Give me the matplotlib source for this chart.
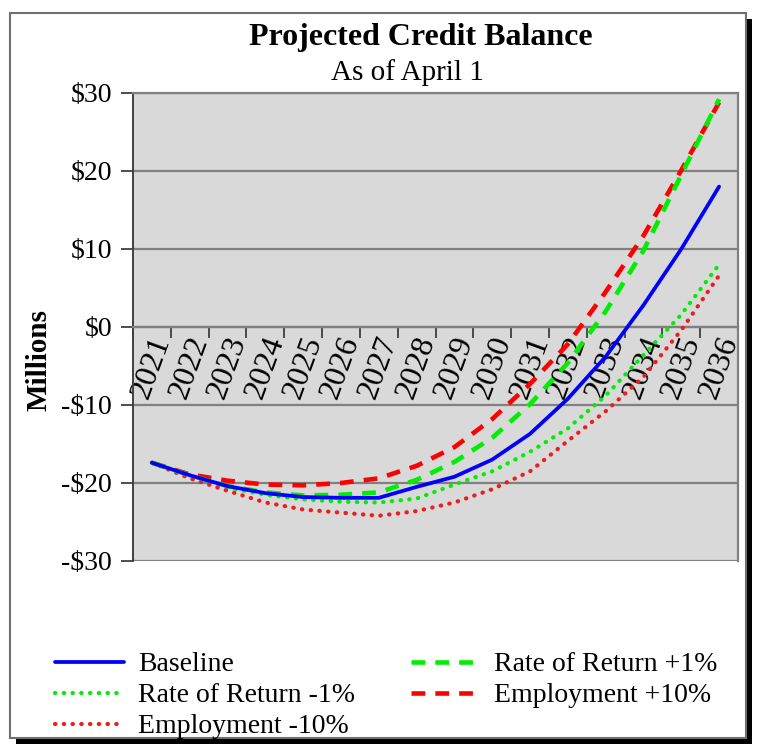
import numpy as np
import matplotlib
matplotlib.use('Agg')
import matplotlib.pyplot as plt
from matplotlib.patches import Rectangle

plt.rcParams['font.family'] = ['Liberation Serif', 'DejaVu Serif']

years = [str(y) for y in range(2021, 2037)]

# credit balance projections, $ millions
baseline = [-17.4, -19.0, -20.4, -21.3, -21.8, -21.9, -21.9, -20.5, -19.2, -17.0,
            -13.7, -9.2, -3.8, 2.8, 10.0, 18.0]
ror_plus = [-17.4, -19.0, -20.4, -21.2, -21.6, -21.5, -21.2, -19.6, -17.3, -14.2,
            -9.9, -4.6, 2.0, 9.8, 19.5, 29.2]
ror_minus = [-17.4, -19.1, -20.6, -21.5, -22.1, -22.4, -22.5, -22.0, -20.2, -18.5,
             -16.0, -13.0, -8.8, -3.6, 1.6, 8.0]
emp_plus = [-17.4, -18.9, -19.7, -20.2, -20.3, -20.0, -19.4, -17.8, -15.4, -11.8,
            -7.3, -2.2, 4.5, 11.7, 20.1, 28.8]
emp_minus = [-17.4, -19.4, -21.0, -22.5, -23.4, -23.8, -24.2, -23.6, -22.5, -20.8,
             -18.5, -14.6, -10.8, -6.4, -0.4, 6.6]

W, H = 759, 748
fig = plt.figure(figsize=(W / 100, H / 100), dpi=100)


def px(x0, y0, x1, y1):
    # pixel box (top-left origin) -> figure fraction rect
    return x0 / W, 1 - y1 / H, (x1 - x0) / W, (y1 - y0) / H


# framed panel with drop shadow
x, y, w, h = px(16, 19, 752, 744)
fig.patches.append(Rectangle((x, y), w, h, transform=fig.transFigure,
                             facecolor='black', edgecolor='none', zorder=-2))
x, y, w, h = px(10, 13, 746, 738)
fig.patches.append(Rectangle((x, y), w, h, transform=fig.transFigure,
                             facecolor='white', edgecolor='#707070', lw=1.5, zorder=-1))

ax = fig.add_axes(px(133, 93, 738, 561))
ax.set_zorder(2)
ax.set_facecolor('#D9D9D9')

xs = np.arange(len(years))
ax.plot(xs, baseline, color='#0000FF', lw=2.7, solid_capstyle='round',
        label='Baseline', zorder=5)
ax.plot(xs, ror_minus, color='#00EE00', lw=3.0, linestyle=(0, (0.1, 2.0)),
        dash_capstyle='round', label='Rate of Return -1%', zorder=4)
ax.plot(xs, emp_minus, color='#EE1C1C', lw=3.0, linestyle=(0, (0.1, 2.0)),
        dash_capstyle='round', label='Employment -10%', zorder=4)
ax.plot(xs, ror_plus, color='#00EE00', lw=3.3, linestyle=(0, (3.0, 2.2)),
        label='Rate of Return +1%', zorder=4)
ax.plot(xs, emp_plus, color='#FF0000', lw=3.3, linestyle=(0, (3.0, 2.2)),
        label='Employment +10%', zorder=3)

ax.set_xlim(-0.5, len(years) - 0.5)
ax.set_ylim(-30, 30)
ax.set_yticks(np.arange(-30, 31, 10))
ax.set_yticklabels(['$%d' % v if v >= 0 else '-$%d' % -v
                    for v in range(-30, 31, 10)], fontsize=20)
ax.yaxis.grid(True, color='#808080', lw=1.6)
ax.set_axisbelow(True)

# category axis crosses at zero
ax.spines['bottom'].set_position(('data', 0))
ax.set_xticks(xs)
ax.set_xticklabels(years, fontsize=23, rotation=70, ha='center')
ax.set_xticks(np.arange(-0.5, len(years)), minor=True)
ax.tick_params(axis='x', which='major', length=0, pad=4)
ax.tick_params(axis='x', which='minor', length=8, width=1.3, color='#404040',
               direction='out')
ax.tick_params(axis='y', length=9, width=1.3, color='#404040', pad=6)
for side in ['top', 'right', 'bottom']:
    ax.spines[side].set_color('#808080')
    ax.spines[side].set_linewidth(1.6)
ax.spines['left'].set_color('#404040')
ax.spines['left'].set_linewidth(1.4)

fig.text(421 / W, 1 - 37 / H, 'Projected Credit Balance', fontsize=23,
         fontweight='bold', ha='center', va='center')
fig.text(407 / W, 1 - 73 / H, 'As of April 1', fontsize=21,
         ha='center', va='center')
fig.text(39 / W, 1 - 360 / H, 'Millions', fontsize=21, fontweight='bold',
         rotation=90, ha='center', va='center')

handles, labels = ax.get_legend_handles_labels()
fig.legend(handles, labels, ncol=2, loc='upper left',
           bbox_to_anchor=(55 / W, 1 - 652 / H), frameon=False, fontsize=20,
           borderpad=0, borderaxespad=0, handlelength=2.5, handletextpad=0.5,
           columnspacing=2.0, labelspacing=0.2)

plt.savefig('out.png', dpi=100)
